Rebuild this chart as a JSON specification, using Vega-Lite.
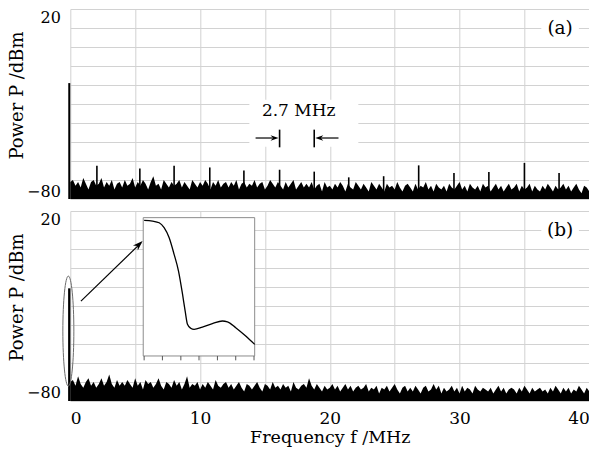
{
"$schema": "https://vega.github.io/schema/vega-lite/v6.json",
"background": "white",
"padding": {"left": 8.3, "top": 9, "right": 0, "bottom": 0},
"spacing": 11,
"config": {
 "font": "DejaVu Serif",
 "view": {"stroke": null},
 "axis": {"grid": true, "gridColor": "#d2d2d2", "gridWidth": 1, "gridOpacity": 1, "domain": false, "ticks": false, "labelColor": "black", "titleColor": "black", "titleFontWeight": "normal", "labelFont": "DejaVu Serif", "titleFont": "DejaVu Serif"}
},
"datasets": {
 "noiseA": [
{"f":0.0,"p":-71},{"f":0.2,"p":-70},{"f":0.4,"p":-73},{"f":0.6,"p":-71},{"f":0.8,"p":-74},{"f":1.0,"p":-69},{"f":1.2,"p":-72},{"f":1.4,"p":-75},{"f":1.6,"p":-71},{"f":1.8,"p":-70},{"f":2.0,"p":-73},
{"f":2.2,"p":-72},{"f":2.4,"p":-69},{"f":2.6,"p":-74},{"f":2.8,"p":-71},{"f":3.0,"p":-73},{"f":3.2,"p":-70},{"f":3.4,"p":-75},{"f":3.6,"p":-72},{"f":3.8,"p":-71},{"f":4.0,"p":-74},
{"f":4.2,"p":-70},{"f":4.4,"p":-73},{"f":4.6,"p":-72},{"f":4.8,"p":-69},{"f":5.0,"p":-74},{"f":5.2,"p":-71},{"f":5.4,"p":-73},{"f":5.6,"p":-70},{"f":5.8,"p":-72},{"f":6.0,"p":-75},
{"f":6.2,"p":-71},{"f":6.4,"p":-68},{"f":6.6,"p":-73},{"f":6.8,"p":-72},{"f":7.0,"p":-75},{"f":7.2,"p":-70},{"f":7.4,"p":-72},{"f":7.6,"p":-74},{"f":7.8,"p":-71},{"f":8.0,"p":-73},
{"f":8.2,"p":-72},{"f":8.4,"p":-70},{"f":8.6,"p":-74},{"f":8.8,"p":-71},{"f":9.0,"p":-73},{"f":9.2,"p":-75},{"f":9.4,"p":-70},{"f":9.6,"p":-72},{"f":9.8,"p":-74},{"f":10.0,"p":-71},
{"f":10.2,"p":-73},{"f":10.4,"p":-70},{"f":10.6,"p":-72},{"f":10.8,"p":-75},{"f":11.0,"p":-71},{"f":11.2,"p":-73},{"f":11.4,"p":-70},{"f":11.6,"p":-74},{"f":11.8,"p":-72},{"f":12.0,"p":-71},
{"f":12.2,"p":-74},{"f":12.4,"p":-71},{"f":12.6,"p":-73},{"f":12.8,"p":-70},{"f":13.0,"p":-75},{"f":13.2,"p":-72},{"f":13.4,"p":-71},{"f":13.6,"p":-74},{"f":13.8,"p":-72},{"f":14.0,"p":-73},
{"f":14.2,"p":-70},{"f":14.4,"p":-74},{"f":14.6,"p":-72},{"f":14.8,"p":-71},{"f":15.0,"p":-75},{"f":15.2,"p":-73},{"f":15.4,"p":-70},{"f":15.6,"p":-72},{"f":15.8,"p":-74},{"f":16.0,"p":-71},
{"f":16.2,"p":-73},{"f":16.4,"p":-75},{"f":16.6,"p":-71},{"f":16.8,"p":-74},{"f":17.0,"p":-72},{"f":17.2,"p":-70},{"f":17.4,"p":-75},{"f":17.6,"p":-73},{"f":17.8,"p":-71},{"f":18.0,"p":-74},
{"f":18.2,"p":-72},{"f":18.4,"p":-74},{"f":18.6,"p":-71},{"f":18.8,"p":-75},{"f":19.0,"p":-73},{"f":19.2,"p":-72},{"f":19.4,"p":-76},{"f":19.6,"p":-71},{"f":19.8,"p":-74},{"f":20.0,"p":-73},
{"f":20.2,"p":-75},{"f":20.4,"p":-72},{"f":20.6,"p":-74},{"f":20.8,"p":-71},{"f":21.0,"p":-73},{"f":21.2,"p":-76},{"f":21.4,"p":-72},{"f":21.6,"p":-74},{"f":21.8,"p":-75},{"f":22.0,"p":-71},
{"f":22.2,"p":-73},{"f":22.4,"p":-75},{"f":22.6,"p":-72},{"f":22.8,"p":-74},{"f":23.0,"p":-76},{"f":23.2,"p":-71},{"f":23.4,"p":-73},{"f":23.6,"p":-75},{"f":23.8,"p":-72},{"f":24.0,"p":-74},
{"f":24.2,"p":-76},{"f":24.4,"p":-72},{"f":24.6,"p":-74},{"f":24.8,"p":-73},{"f":25.0,"p":-75},{"f":25.2,"p":-71},{"f":25.4,"p":-74},{"f":25.6,"p":-76},{"f":25.8,"p":-73},{"f":26.0,"p":-72},
{"f":26.2,"p":-74},{"f":26.4,"p":-76},{"f":26.6,"p":-72},{"f":26.8,"p":-75},{"f":27.0,"p":-73},{"f":27.2,"p":-74},{"f":27.4,"p":-71},{"f":27.6,"p":-75},{"f":27.8,"p":-73},{"f":28.0,"p":-76},
{"f":28.2,"p":-72},{"f":28.4,"p":-74},{"f":28.6,"p":-75},{"f":28.8,"p":-73},{"f":29.0,"p":-76},{"f":29.2,"p":-72},{"f":29.4,"p":-74},{"f":29.6,"p":-75},{"f":29.8,"p":-73},{"f":30.0,"p":-71},
{"f":30.2,"p":-75},{"f":30.4,"p":-73},{"f":30.6,"p":-76},{"f":30.8,"p":-72},{"f":31.0,"p":-74},{"f":31.2,"p":-75},{"f":31.4,"p":-73},{"f":31.6,"p":-76},{"f":31.8,"p":-72},{"f":32.0,"p":-74},
{"f":32.2,"p":-73},{"f":32.4,"p":-76},{"f":32.6,"p":-74},{"f":32.8,"p":-72},{"f":33.0,"p":-75},{"f":33.2,"p":-73},{"f":33.4,"p":-76},{"f":33.6,"p":-74},{"f":33.8,"p":-72},{"f":34.0,"p":-75},
{"f":34.2,"p":-74},{"f":34.4,"p":-72},{"f":34.6,"p":-76},{"f":34.8,"p":-73},{"f":35.0,"p":-75},{"f":35.2,"p":-74},{"f":35.4,"p":-72},{"f":35.6,"p":-76},{"f":35.8,"p":-73},{"f":36.0,"p":-75},
{"f":36.2,"p":-76},{"f":36.4,"p":-73},{"f":36.6,"p":-75},{"f":36.8,"p":-72},{"f":37.0,"p":-74},{"f":37.2,"p":-76},{"f":37.4,"p":-73},{"f":37.6,"p":-75},{"f":37.8,"p":-74},{"f":38.0,"p":-72},
{"f":38.2,"p":-75},{"f":38.4,"p":-73},{"f":38.6,"p":-76},{"f":38.8,"p":-74},{"f":39.0,"p":-72},{"f":39.2,"p":-75},{"f":39.4,"p":-77},{"f":39.6,"p":-73},{"f":39.8,"p":-74},{"f":40.0,"p":-76}
 ],
 "noiseB": [
{"f":0.0,"p":-70},{"f":0.2,"p":-69},{"f":0.4,"p":-72},{"f":0.6,"p":-67},{"f":0.8,"p":-71},{"f":1.0,"p":-73},{"f":1.2,"p":-70},{"f":1.4,"p":-68},{"f":1.6,"p":-72},{"f":1.8,"p":-70},{"f":2.0,"p":-73},
{"f":2.2,"p":-71},{"f":2.4,"p":-68},{"f":2.6,"p":-72},{"f":2.8,"p":-70},{"f":3.0,"p":-66},{"f":3.2,"p":-71},{"f":3.4,"p":-73},{"f":3.6,"p":-69},{"f":3.8,"p":-72},{"f":4.0,"p":-70},
{"f":4.2,"p":-72},{"f":4.4,"p":-69},{"f":4.6,"p":-71},{"f":4.8,"p":-73},{"f":5.0,"p":-68},{"f":5.2,"p":-72},{"f":5.4,"p":-70},{"f":5.6,"p":-74},{"f":5.8,"p":-69},{"f":6.0,"p":-71},
{"f":6.2,"p":-70},{"f":6.4,"p":-73},{"f":6.6,"p":-71},{"f":6.8,"p":-68},{"f":7.0,"p":-72},{"f":7.2,"p":-74},{"f":7.4,"p":-70},{"f":7.6,"p":-71},{"f":7.8,"p":-73},{"f":8.0,"p":-69},
{"f":8.2,"p":-72},{"f":8.4,"p":-70},{"f":8.6,"p":-74},{"f":8.8,"p":-71},{"f":9.0,"p":-67},{"f":9.2,"p":-73},{"f":9.4,"p":-71},{"f":9.6,"p":-72},{"f":9.8,"p":-70},{"f":10.0,"p":-74},
{"f":10.2,"p":-71},{"f":10.4,"p":-73},{"f":10.6,"p":-70},{"f":10.8,"p":-72},{"f":11.0,"p":-74},{"f":11.2,"p":-69},{"f":11.4,"p":-72},{"f":11.6,"p":-73},{"f":11.8,"p":-71},{"f":12.0,"p":-70},
{"f":12.2,"p":-73},{"f":12.4,"p":-71},{"f":12.6,"p":-74},{"f":12.8,"p":-72},{"f":13.0,"p":-70},{"f":13.2,"p":-73},{"f":13.4,"p":-75},{"f":13.6,"p":-71},{"f":13.8,"p":-72},{"f":14.0,"p":-74},
{"f":14.2,"p":-72},{"f":14.4,"p":-70},{"f":14.6,"p":-73},{"f":14.8,"p":-75},{"f":15.0,"p":-71},{"f":15.2,"p":-72},{"f":15.4,"p":-74},{"f":15.6,"p":-70},{"f":15.8,"p":-73},{"f":16.0,"p":-72},
{"f":16.2,"p":-74},{"f":16.4,"p":-71},{"f":16.6,"p":-73},{"f":16.8,"p":-72},{"f":17.0,"p":-75},{"f":17.2,"p":-70},{"f":17.4,"p":-73},{"f":17.6,"p":-74},{"f":17.8,"p":-72},{"f":18.0,"p":-71},
{"f":18.2,"p":-73},{"f":18.4,"p":-68},{"f":18.6,"p":-72},{"f":18.8,"p":-74},{"f":19.0,"p":-71},{"f":19.2,"p":-73},{"f":19.4,"p":-75},{"f":19.6,"p":-72},{"f":19.8,"p":-74},{"f":20.0,"p":-73},
{"f":20.2,"p":-71},{"f":20.4,"p":-74},{"f":20.6,"p":-72},{"f":20.8,"p":-75},{"f":21.0,"p":-73},{"f":21.2,"p":-71},{"f":21.4,"p":-74},{"f":21.6,"p":-72},{"f":21.8,"p":-75},{"f":22.0,"p":-73},
{"f":22.2,"p":-72},{"f":22.4,"p":-74},{"f":22.6,"p":-73},{"f":22.8,"p":-71},{"f":23.0,"p":-75},{"f":23.2,"p":-73},{"f":23.4,"p":-74},{"f":23.6,"p":-72},{"f":23.8,"p":-76},{"f":24.0,"p":-73},
{"f":24.2,"p":-74},{"f":24.4,"p":-72},{"f":24.6,"p":-75},{"f":24.8,"p":-73},{"f":25.0,"p":-71},{"f":25.2,"p":-74},{"f":25.4,"p":-76},{"f":25.6,"p":-73},{"f":25.8,"p":-72},{"f":26.0,"p":-75},
{"f":26.2,"p":-73},{"f":26.4,"p":-75},{"f":26.6,"p":-72},{"f":26.8,"p":-74},{"f":27.0,"p":-76},{"f":27.2,"p":-73},{"f":27.4,"p":-72},{"f":27.6,"p":-75},{"f":27.8,"p":-74},{"f":28.0,"p":-71},
{"f":28.2,"p":-74},{"f":28.4,"p":-72},{"f":28.6,"p":-76},{"f":28.8,"p":-73},{"f":29.0,"p":-75},{"f":29.2,"p":-74},{"f":29.4,"p":-72},{"f":29.6,"p":-75},{"f":29.8,"p":-73},{"f":30.0,"p":-76},
{"f":30.2,"p":-72},{"f":30.4,"p":-75},{"f":30.6,"p":-73},{"f":30.8,"p":-74},{"f":31.0,"p":-76},{"f":31.2,"p":-72},{"f":31.4,"p":-74},{"f":31.6,"p":-75},{"f":31.8,"p":-73},{"f":32.0,"p":-74},
{"f":32.2,"p":-75},{"f":32.4,"p":-73},{"f":32.6,"p":-76},{"f":32.8,"p":-74},{"f":33.0,"p":-72},{"f":33.2,"p":-75},{"f":33.4,"p":-73},{"f":33.6,"p":-76},{"f":33.8,"p":-74},{"f":34.0,"p":-73},
{"f":34.2,"p":-74},{"f":34.4,"p":-76},{"f":34.6,"p":-73},{"f":34.8,"p":-75},{"f":35.0,"p":-72},{"f":35.2,"p":-74},{"f":35.4,"p":-76},{"f":35.6,"p":-73},{"f":35.8,"p":-75},{"f":36.0,"p":-74},
{"f":36.2,"p":-73},{"f":36.4,"p":-75},{"f":36.6,"p":-74},{"f":36.8,"p":-76},{"f":37.0,"p":-73},{"f":37.2,"p":-75},{"f":37.4,"p":-72},{"f":37.6,"p":-74},{"f":37.8,"p":-76},{"f":38.0,"p":-73},
{"f":38.2,"p":-75},{"f":38.4,"p":-73},{"f":38.6,"p":-76},{"f":38.8,"p":-74},{"f":39.0,"p":-75},{"f":39.2,"p":-72},{"f":39.4,"p":-74},{"f":39.6,"p":-76},{"f":39.8,"p":-73},{"f":40.0,"p":-75}
 ],
 "peaksA": [
{"f":2.05,"p":-62.5},{"f":5.36,"p":-64},{"f":8.0,"p":-62.5},{"f":10.75,"p":-63.4},{"f":13.38,"p":-65},{"f":16.13,"p":-64.6},{"f":18.8,"p":-65.6},{"f":21.46,"p":-68.6},{"f":24.15,"p":-68},{"f":26.85,"p":-62.3},{"f":29.57,"p":-66.3},{"f":32.26,"p":-65.8},{"f":35.0,"p":-61},{"f":37.67,"p":-66.3}
 ],
 "insetCurve": [
{"f":5.69,"p":15.1},{"f":6.34,"p":14.7},{"f":6.85,"p":13.8},{"f":7.23,"p":11.2},{"f":7.62,"p":5.9},{"f":8.0,"p":-2.8},{"f":8.34,"p":-11.6},{"f":8.65,"p":-23.8},{"f":8.85,"p":-32.6},{"f":9.03,"p":-39.6},{"f":9.28,"p":-41.7},{"f":9.54,"p":-42.3},{"f":10.18,"p":-41.1},{"f":10.95,"p":-39.3},{"f":11.72,"p":-37.9},{"f":12.11,"p":-38.3},{"f":12.75,"p":-41.4},{"f":13.52,"p":-45.8},{"f":14.21,"p":-50.2}
 ],
 "insetTicks": [
{"f":5.69},{"f":7.1},{"f":8.52},{"f":9.92},{"f":11.34},{"f":12.75},{"f":14.16}
 ]
},
"vconcat": [
 {
  "width": 519, "height": 190,
  "layer": [
   {"data": {"name": "noiseA"}, "mark": {"type": "area", "color": "black", "interpolate": "linear"},
    "encoding": {
     "x": {"field": "f", "type": "quantitative", "scale": {"domain": [0, 40], "nice": false, "zero": false},
       "axis": {"values": [0,5,10,15,20,25,30,35,40], "tickCount": 20, "labels": false, "title": null}},
     "y": {"field": "p", "type": "quantitative", "scale": {"domain": [-80, 20], "nice": false, "zero": false},
       "axis": {"values": [-80,-70,-60,-50,-40,-30,-20,-10,0,10,20], "tickCount": 20, "labelExpr": "datum.value == 20 || datum.value == -80 ? datum.label : ''", "labelFlush": true, "labelOverlap": false, "labelFontSize": 16, "labelPadding": 10, "title": "Power P /dBm", "titleFontSize": 18, "titlePadding": 0, "titleY": 86}},
     "y2": {"datum": -80}}},
   {"data": {"name": "peaksA"}, "mark": {"type": "rule", "color": "black", "strokeWidth": 1.6},
    "encoding": {"x": {"field": "f", "type": "quantitative"}, "y": {"field": "p", "type": "quantitative"}, "y2": {"datum": -80}}},
   {"data": {"values": [{"f": -0.08, "p": -19}]}, "mark": {"type": "rule", "color": "black", "strokeWidth": 2},
    "encoding": {"x": {"field": "f", "type": "quantitative"}, "y": {"field": "p", "type": "quantitative"}, "y2": {"datum": -80}}},
   {"data": {"values": [{"f1": 13.8, "f2": 22.2, "p1": -27.7, "p2": -52.5}, {"f1": 36.3, "f2": 39.2, "p1": 15.5, "p2": 4.5}]},
    "mark": {"type": "rect", "fill": "white"},
    "encoding": {"x": {"field": "f1", "type": "quantitative"}, "x2": {"field": "f2"}, "y": {"field": "p1", "type": "quantitative"}, "y2": {"field": "p2"}}},
   {"data": {"values": [{"f": 16.13}, {"f": 18.8}]}, "mark": {"type": "rule", "color": "black", "strokeWidth": 1.6},
    "encoding": {"x": {"field": "f", "type": "quantitative"}, "y": {"datum": -43.5}, "y2": {"datum": -52.8}}},
   {"data": {"values": [{"f1": 14.28, "f2": 15.6}, {"f1": 19.3, "f2": 20.67}]}, "mark": {"type": "rule", "color": "black", "strokeWidth": 1.2},
    "encoding": {"x": {"field": "f1", "type": "quantitative"}, "x2": {"field": "f2"}, "y": {"datum": -47.9}}},
   {"data": {"values": [{"f": 16.05, "p": -47.9}]}, "mark": {"type": "point", "shape": "M0,0L-2,-0.7L-1.4,0L-2,0.7Z", "size": 64, "filled": true, "color": "black", "opacity": 1, "strokeWidth": 0},
    "encoding": {"x": {"field": "f", "type": "quantitative"}, "y": {"field": "p", "type": "quantitative"}}},
   {"data": {"values": [{"f": 18.88, "p": -47.9}]}, "mark": {"type": "point", "shape": "M0,0L-2,-0.7L-1.4,0L-2,0.7Z", "size": 64, "angle": 180, "filled": true, "color": "black", "opacity": 1, "strokeWidth": 0},
    "encoding": {"x": {"field": "f", "type": "quantitative"}, "y": {"field": "p", "type": "quantitative"}}},
   {"data": {"values": [{"f": 17.6, "p": -33.9, "t": "2.7 MHz"}]}, "mark": {"type": "text", "fontSize": 17, "color": "black", "align": "center", "baseline": "middle"},
    "encoding": {"x": {"field": "f", "type": "quantitative"}, "y": {"field": "p", "type": "quantitative"}, "text": {"field": "t"}}},
   {"data": {"values": [{"f": 37.75, "p": 10, "t": "(a)"}]}, "mark": {"type": "text", "fontSize": 18.5, "color": "black", "align": "center", "baseline": "middle"},
    "encoding": {"x": {"field": "f", "type": "quantitative"}, "y": {"field": "p", "type": "quantitative"}, "text": {"field": "t"}}}
  ]
 },
 {
  "width": 519, "height": 190,
  "layer": [
   {"data": {"name": "noiseB"}, "mark": {"type": "area", "color": "black", "interpolate": "linear"},
    "encoding": {
     "x": {"field": "f", "type": "quantitative", "scale": {"domain": [0, 40], "nice": false, "zero": false},
       "axis": {"values": [0,5,10,15,20,25,30,35,40], "tickCount": 20, "labelExpr": "datum.value % 10 == 0 ? datum.label : ''", "labelFlush": true, "labelOverlap": false, "labelFontSize": 17, "labelPadding": 10, "title": "Frequency f /MHz", "titleFontSize": 17.5, "titlePadding": 2}},
     "y": {"field": "p", "type": "quantitative", "scale": {"domain": [-80, 20], "nice": false, "zero": false},
       "axis": {"values": [-80,-70,-60,-50,-40,-30,-20,-10,0,10,20], "tickCount": 20, "labelExpr": "datum.value == 20 || datum.value == -80 ? datum.label : ''", "labelFlush": true, "labelOverlap": false, "labelFontSize": 16, "labelPadding": 10, "title": "Power P /dBm", "titleFontSize": 18, "titlePadding": 0, "titleY": 86}},
     "y2": {"datum": -80}}},
   {"data": {"values": [{"f": -0.08, "p": -20.7}]}, "mark": {"type": "rule", "color": "black", "strokeWidth": 2.3},
    "encoding": {"x": {"field": "f", "type": "quantitative"}, "y": {"field": "p", "type": "quantitative"}, "y2": {"datum": -80}}},
   {"data": {"values": [{"f": -0.15, "p": -43.2}]}, "mark": {"type": "point", "shape": "M0,-1C0.0552,-1,0.1,-0.5523,0.1,0C0.1,0.5523,0.0552,1,0,1C-0.0552,1,-0.1,0.5523,-0.1,0C-0.1,-0.5523,-0.0552,-1,0,-1Z", "size": 12100, "filled": false, "stroke": "#6a6a6a", "strokeWidth": 1, "opacity": 1},
    "encoding": {"x": {"field": "f", "type": "quantitative"}, "y": {"field": "p", "type": "quantitative"}}},
   {"data": {"values": [{"f1": 0.82, "p1": -27.4, "f2": 5.45, "p2": 3.2}]}, "mark": {"type": "rule", "color": "black", "strokeWidth": 1.2},
    "encoding": {"x": {"field": "f1", "type": "quantitative"}, "x2": {"field": "f2"}, "y": {"field": "p1", "type": "quantitative"}, "y2": {"field": "p2"}}},
   {"data": {"values": [{"f1": 5.62, "f2": 14.21, "p1": 16.5, "p2": -56.3}]}, "mark": {"type": "rect", "fill": "white", "stroke": "#8c8c8c", "strokeWidth": 1},
    "encoding": {"x": {"field": "f1", "type": "quantitative"}, "x2": {"field": "f2"}, "y": {"field": "p1", "type": "quantitative"}, "y2": {"field": "p2"}}},
   {"data": {"values": [{"f": 5.57, "p": 4.2}]}, "mark": {"type": "point", "shape": "M0,0L-2,-0.7L-1.4,0L-2,0.7Z", "size": 100, "angle": -44, "filled": true, "color": "black", "opacity": 1, "strokeWidth": 0},
    "encoding": {"x": {"field": "f", "type": "quantitative"}, "y": {"field": "p", "type": "quantitative"}}},
   {"data": {"name": "insetTicks"}, "mark": {"type": "rule", "color": "#555555", "strokeWidth": 1},
    "encoding": {"x": {"field": "f", "type": "quantitative"}, "y": {"datum": -56.3}, "y2": {"datum": -58.6}}},
   {"data": {"name": "insetCurve"}, "mark": {"type": "line", "color": "black", "strokeWidth": 1.3, "interpolate": "monotone"},
    "encoding": {"x": {"field": "f", "type": "quantitative"}, "y": {"field": "p", "type": "quantitative"}}},
   {"data": {"values": [{"f1": 36.3, "f2": 39.2, "p1": 15.5, "p2": 4.5}]}, "mark": {"type": "rect", "fill": "white"},
    "encoding": {"x": {"field": "f1", "type": "quantitative"}, "x2": {"field": "f2"}, "y": {"field": "p1", "type": "quantitative"}, "y2": {"field": "p2"}}},
   {"data": {"values": [{"f": 37.75, "p": 10, "t": "(b)"}]}, "mark": {"type": "text", "fontSize": 18.5, "color": "black", "align": "center", "baseline": "middle"},
    "encoding": {"x": {"field": "f", "type": "quantitative"}, "y": {"field": "p", "type": "quantitative"}, "text": {"field": "t"}}}
  ]
 }
]
}
